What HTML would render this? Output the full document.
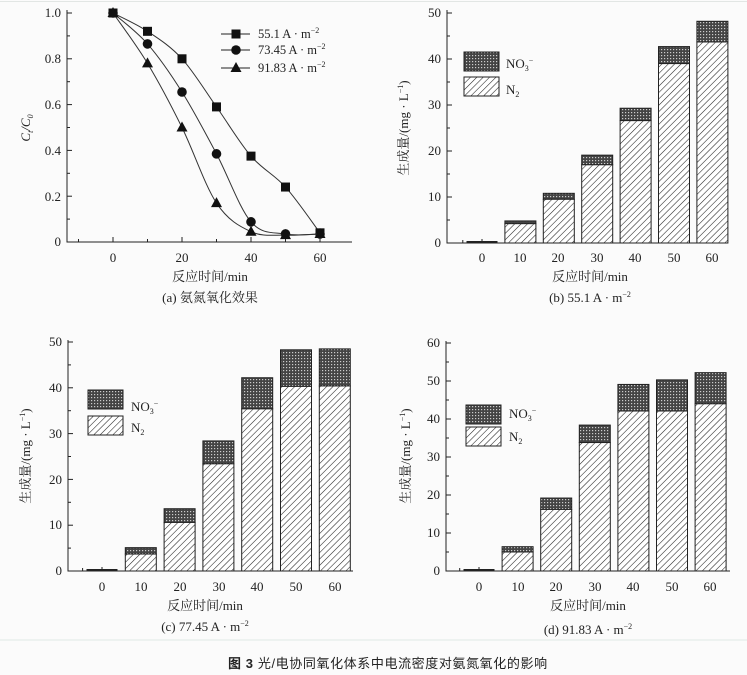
<!DOCTYPE html>
<html><head><meta charset="utf-8"><style>
html,body{margin:0;padding:0;background:#fbfbfb;}
svg{display:block;}
text{font-family:"Liberation Serif","Noto Serif CJK SC",serif;fill:#222;}
.cj{font-family:"Liberation Serif","Noto Serif CJK SC",serif;}
</style></head><body>
<svg id="s" width="747" height="675" viewBox="0 0 747 675" xmlns="http://www.w3.org/2000/svg">
<defs>
<pattern id="hatch" width="4.5" height="4.5" patternUnits="userSpaceOnUse" patternTransform="rotate(45)">
<rect width="5" height="5" fill="#fff"/><line x1="0" y1="0" x2="0" y2="5" stroke="#222" stroke-width="1.1"/></pattern>
<pattern id="cross" width="3" height="3" patternUnits="userSpaceOnUse">
<rect width="3" height="3" fill="#444"/><rect x="1" y="1" width="1.2" height="1.2" fill="#ccc"/></pattern>
</defs>
<line x1="0" y1="1.5" x2="747" y2="1.5" stroke="#e2e6e4"/>
<line x1="0" y1="640" x2="747" y2="640" stroke="#dfe8e4"/>
<g id="g"></g>
<!-- Panel a text -->
<g font-size="13" text-anchor="end">
<text x="61" y="17">1.0</text><text x="61" y="63">0.8</text><text x="61" y="109">0.6</text><text x="61" y="155">0.4</text><text x="61" y="201">0.2</text><text x="61" y="246">0</text>
</g>
<g font-size="13" text-anchor="middle">
<text x="113" y="262">0</text><text x="182" y="262">20</text><text x="251" y="262">40</text><text x="320" y="262">60</text>
<text x="210" y="281" class="cj">反应时间/min</text>
<text x="210" y="302" class="cj">(a) 氨氮氧化效果</text>
</g>
<text transform="translate(30,128) rotate(-90)" font-size="13" text-anchor="middle" font-style="italic">C<tspan font-size="8" dy="3">t</tspan><tspan dy="-3">/C</tspan><tspan font-size="8" dy="3">0</tspan></text>
<g font-size="12.5">
<text x="258" y="38">55.1 A · m<tspan font-size="8" dy="-5">−2</tspan></text>
<text x="258" y="54">73.45 A · m<tspan font-size="8" dy="-5">−2</tspan></text>
<text x="258" y="72">91.83 A · m<tspan font-size="8" dy="-5">−2</tspan></text>
</g>
<!-- Panel b text -->
<g font-size="13" text-anchor="end">
<text x="441" y="17">50</text><text x="441" y="63">40</text><text x="441" y="109">30</text><text x="441" y="155">20</text><text x="441" y="201">10</text><text x="441" y="247">0</text>
</g>
<g font-size="13" text-anchor="middle">
<text x="482" y="262">0</text><text x="520" y="262">10</text><text x="558" y="262">20</text><text x="597" y="262">30</text><text x="635" y="262">40</text><text x="674" y="262">50</text><text x="712" y="262">60</text>
<text x="590" y="281" class="cj">反应时间/min</text>
<text x="590" y="302">(b) 55.1 A · m<tspan font-size="8" dy="-5">−2</tspan></text>
</g>
<text transform="translate(408,128) rotate(-90)" font-size="13" text-anchor="middle" class="cj">生成量/(mg · L<tspan font-size="8" dy="-5">−1</tspan><tspan dy="5">)</tspan></text>
<g font-size="13"><text x="506" y="68">NO<tspan font-size="8" dy="3">3</tspan><tspan font-size="8" dy="-8">−</tspan></text><text x="506" y="94">N<tspan font-size="8" dy="3">2</tspan></text></g>
<!-- Panel c text -->
<g font-size="13" text-anchor="end">
<text x="62" y="346">50</text><text x="62" y="392">40</text><text x="62" y="438">30</text><text x="62" y="484">20</text><text x="62" y="529">10</text><text x="62" y="575">0</text>
</g>
<g font-size="13" text-anchor="middle">
<text x="102" y="591">0</text><text x="141" y="591">10</text><text x="180" y="591">20</text><text x="219" y="591">30</text><text x="257" y="591">40</text><text x="296" y="591">50</text><text x="335" y="591">60</text>
<text x="205" y="610" class="cj">反应时间/min</text>
<text x="205" y="631">(c) 77.45 A · m<tspan font-size="8" dy="-5">−2</tspan></text>
</g>
<text transform="translate(30,456) rotate(-90)" font-size="13" text-anchor="middle" class="cj">生成量/(mg · L<tspan font-size="8" dy="-5">−1</tspan><tspan dy="5">)</tspan></text>
<g font-size="13"><text x="131" y="411">NO<tspan font-size="8" dy="3">3</tspan><tspan font-size="8" dy="-8">−</tspan></text><text x="131" y="432">N<tspan font-size="8" dy="3">2</tspan></text></g>
<!-- Panel d text -->
<g font-size="13" text-anchor="end">
<text x="440" y="347">60</text><text x="440" y="385">50</text><text x="440" y="423">40</text><text x="440" y="461">30</text><text x="440" y="499">20</text><text x="440" y="537">10</text><text x="440" y="575">0</text>
</g>
<g font-size="13" text-anchor="middle">
<text x="479" y="591">0</text><text x="518" y="591">10</text><text x="556" y="591">20</text><text x="595" y="591">30</text><text x="633" y="591">40</text><text x="672" y="591">50</text><text x="710" y="591">60</text>
<text x="588" y="610" class="cj">反应时间/min</text>
<text x="588" y="634">(d) 91.83 A · m<tspan font-size="8" dy="-5">−2</tspan></text>
</g>
<text transform="translate(410,456) rotate(-90)" font-size="13" text-anchor="middle" class="cj">生成量/(mg · L<tspan font-size="8" dy="-5">−1</tspan><tspan dy="5">)</tspan></text>
<g font-size="13"><text x="509" y="418">NO<tspan font-size="8" dy="3">3</tspan><tspan font-size="8" dy="-8">−</tspan></text><text x="509" y="441">N<tspan font-size="8" dy="3">2</tspan></text></g>
<!-- caption -->
<text x="228" y="668" font-size="13" letter-spacing="0.6" style="font-family:'Liberation Sans','Noto Sans CJK SC',sans-serif" fill="#333"><tspan font-weight="bold">图 3</tspan>  光/电协同氧化体系中电流密度对氨氮氧化的影响</text>
</svg>
<script>
var g=document.getElementById('g'),NS='http://www.w3.org/2000/svg';
function el(t,a){var e=document.createElementNS(NS,t);for(var k in a)e.setAttribute(k,a[k]);g.appendChild(e);return e;}
function ln(x1,y1,x2,y2,w){el('line',{x1:x1,y1:y1,x2:x2,y2:y2,stroke:'#222','stroke-width':w||1});}
var ax0=113,axs=3.45,ay0=242,ays=229;
ln(67,10,67,242.5);ln(67,242,352,242);
for(var t=-10;t<=68;t+=10){var x=ax0+t*axs;ln(x,242,x,t%20==0?237:239);}
for(var v=0;v<=1.01;v+=0.1){var y=ay0-v*ays;ln(67,y,Math.round(v*10)%2==0?72:70,y);}
var A=[[1,.92,.80,.59,.375,.24,.04],[1,.865,.655,.385,.088,.035,.035],[1,.78,.5,.17,.045,.03,.035]];
function P(i,v){return [ax0+i*10*axs,ay0-v*ays];}
A.forEach(function(d,k){
 var pts=d.map(function(v,i){return P(i,v)});
 var s='M'+pts[0];
 for(var i=0;i<pts.length-1;i++){
  var p0=pts[Math.max(i-1,0)],p1=pts[i],p2=pts[i+1],p3=pts[Math.min(i+2,pts.length-1)];
  var c1=[p1[0]+(p2[0]-p0[0])/6,p1[1]+(p2[1]-p0[1])/6],c2=[p2[0]-(p3[0]-p1[0])/6,p2[1]-(p3[1]-p1[1])/6];
  s+=' C'+c1+' '+c2+' '+p2;}
 el('path',{d:s,fill:'none',stroke:'#333','stroke-width':1});
 pts.forEach(function(p){mark(k,p[0],p[1]);});
});
function mark(k,x,y){
 if(k==0)el('rect',{x:x-4.5,y:y-4.5,width:9,height:9,fill:'#111'});
 else if(k==1)el('circle',{cx:x,cy:y,r:4.8,fill:'#111'});
 else el('polygon',{points:(x-5.5)+','+(y+4)+' '+(x+5.5)+','+(y+4)+' '+x+','+(y-6),fill:'#111'});
}
[34,50,68].forEach(function(y,k){ln(221,y,250,y);mark(k,236,y);});
function bars(o){
 ln(o.ax,o.top,o.ax,o.y0+0.5);ln(o.ax,o.y0,o.xe,o.y0);
 for(var v=0;v<=o.max;v+=o.step/2){var y=o.y0-v*o.s;ln(o.ax,y,o.ax+(v%o.step==0?5:3),y);}
 for(var i=0;i<7;i++){var x=o.c0+i*o.sp;ln(x,o.y0,x,o.y0-4);}
 ln(o.c0-o.sp/2,o.y0,o.c0-o.sp/2,o.y0-3);
 o.d.forEach(function(d,i){
  var x=o.c0+i*o.sp-15.5,w=31;
  if(d[1]<1){el('rect',{x:x,y:o.y0-2,width:w,height:2,fill:'#222'});return;}
  var yn=o.y0-d[0]*o.s,yt=o.y0-d[1]*o.s;
  el('rect',{x:x,y:yt,width:w,height:yn-yt,fill:'url(#cross)',stroke:'#222','stroke-width':1});
  el('rect',{x:x,y:yn,width:w,height:o.y0-yn,fill:'url(#hatch)',stroke:'#222','stroke-width':1});
 });
 el('rect',{x:o.lx,y:o.ly,width:35,height:19,fill:'url(#cross)',stroke:'#222'});
 el('rect',{x:o.lx,y:o.ly+o.lg,width:35,height:19,fill:'url(#hatch)',stroke:'#222'});
}
bars({ax:447,top:10,y0:243,xe:727,s:4.6,max:50,step:10,c0:482,sp:38.4,lx:464,ly:52,lg:25,
 d:[[0.3,0.3],[4.2,4.8],[9.5,10.8],[17,19.1],[26.6,29.3],[39,42.7],[43.7,48.2]]});
bars({ax:68,top:340,y0:571,xe:353,s:4.58,max:50,step:10,c0:102,sp:38.8,lx:88,ly:390,lg:26,
 d:[[0.3,0.3],[3.7,5.1],[10.6,13.6],[23.4,28.4],[35.4,42.2],[40.3,48.3],[40.4,48.5]]});
bars({ax:446,top:341,y0:571,xe:730,s:3.8,max:60,step:10,c0:479,sp:38.6,lx:466,ly:405,lg:22,
 d:[[0.3,0.3],[5,6.4],[16.2,19.2],[33.8,38.4],[42.1,49.1],[42.1,50.3],[44,52.2]]});
</script>
</body></html>
